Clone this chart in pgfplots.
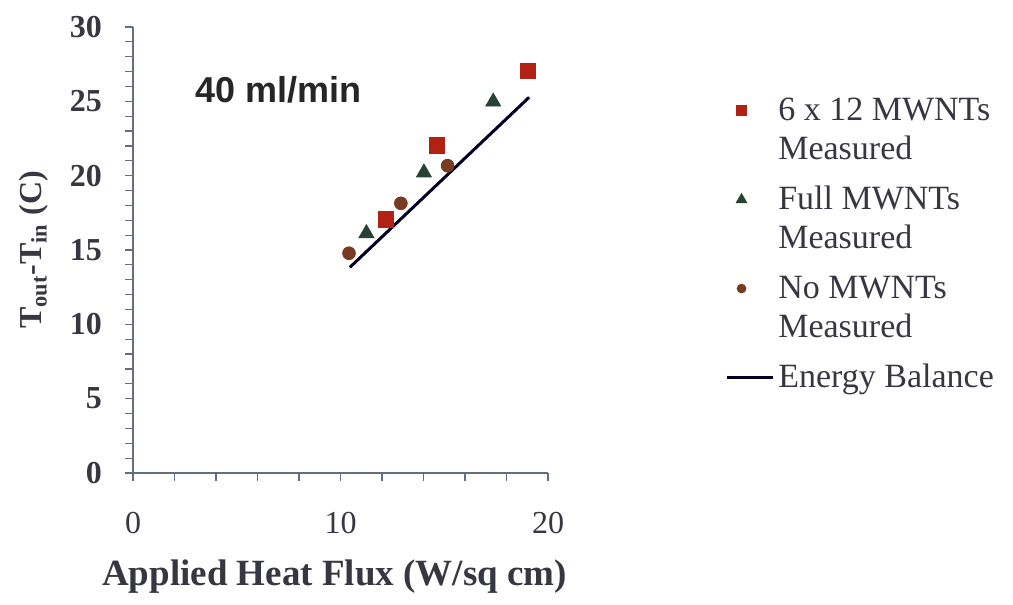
\documentclass[border=0pt]{standalone}
\usepackage{fontspec}
\setmainfont{Liberation Serif}
\newfontfamily\arialfont{Liberation Sans}
\usepackage{pgfplots}
\pgfplotsset{compat=1.18}
\definecolor{sqred}{RGB}{178,34,20}
\definecolor{trigreen}{RGB}{38,66,52}
\definecolor{cirbrown}{RGB}{120,58,32}
\definecolor{axgray}{RGB}{100,110,130}
\definecolor{txtgray}{RGB}{55,55,65}
\pgfplotsset{
  marklegend/.style={legend image code/.code={\draw[mark repeat=2,mark phase=2,##1,mark size=#1]
    plot coordinates {(0cm,9.75pt) (0.25cm,9.75pt) (0.8cm,9.75pt)};}},
  linelegend/.style={legend image code/.code={\draw[##1] (0cm,0cm) -- (0.8cm,0cm);}},
}

\begin{document}
\begin{tikzpicture}
\begin{axis}[
  width=207.5pt, height=223pt, scale only axis,
  xmin=0, xmax=20, ymin=0, ymax=30,
  xtick={0,10,20}, minor xtick={2,4,6,8,12,14,16,18},
  ytick={0,5,...,30}, minor ytick={1,...,29},
  axis x line*=bottom, axis y line*=left,
  axis line style={axgray, line width=0.8pt},
  tick style={axgray, line width=0.6pt},
  tick align=outside,
  major tick length=4pt, minor tick length=4pt,
  /pgf/number format/assume math mode=true,
  xticklabel style={font=\fontsize{16}{18}\selectfont, text=txtgray, yshift=-12pt},
  yticklabel style={font=\bfseries\fontsize{16}{18}\selectfont, text=txtgray, xshift=-8pt},
  xlabel={\textbf{Applied Heat Flux (W/sq cm)}},
  xlabel style={font=\fontsize{18.5}{20}\selectfont, text=txtgray, yshift=-6pt, xshift=-3pt},
  ylabel={\textbf{T\textsubscript{out}-T\textsubscript{in} (C)}},
  ylabel style={font=\fontsize{16}{18}\selectfont, text=txtgray, yshift=4pt},
  clip=false,
  legend style={at={(rel axis cs:1.413,0.86)}, anchor=north west, draw=none,
    fill=none, font=\fontsize{17}{19.5}\selectfont, text=txtgray,
    cells={align=left}, row sep=8pt},
  legend cell align=left,
]
\addplot[only marks, mark=square*, mark size=3.8pt, color=sqred, marklegend=2.6pt] coordinates {
  (12.17,17.06) (14.64,22.04) (19.05,27.06)};
\addlegendentry{6 x 12 MWNTs\\Measured}
\addplot[only marks, mark=triangle*, mark size=4.3pt, color=trigreen, marklegend=3pt] coordinates {
  (11.25,16.12) (14.02,20.2) (17.36,24.97)};
\addlegendentry{Full MWNTs\\Measured}
\addplot[only marks, mark=*, mark size=3.2pt, color=cirbrown, marklegend=2.2pt] coordinates {
  (10.41,14.78) (12.91,18.14) (15.16,20.67)};
\addlegendentry{No MWNTs\\Measured}
\addplot[no marks, line width=1.5pt, color=black!85!blue, linelegend] coordinates {
  (10.45,13.83) (19.09,25.27)};
\addlegendentry{Energy Balance}
\node[font=\arialfont\bfseries\fontsize{18}{20}\selectfont, text=black!85] at (axis cs:7.0,25.8) {40 ml/min};
\coordinate (bbll) at (rel axis cs:-0.3205,-0.296);
\coordinate (bbur) at (rel axis cs:2.1205,1.0605);
\end{axis}
\pgfresetboundingbox
\path (bbll) rectangle (bbur);
\end{tikzpicture}
\end{document}
